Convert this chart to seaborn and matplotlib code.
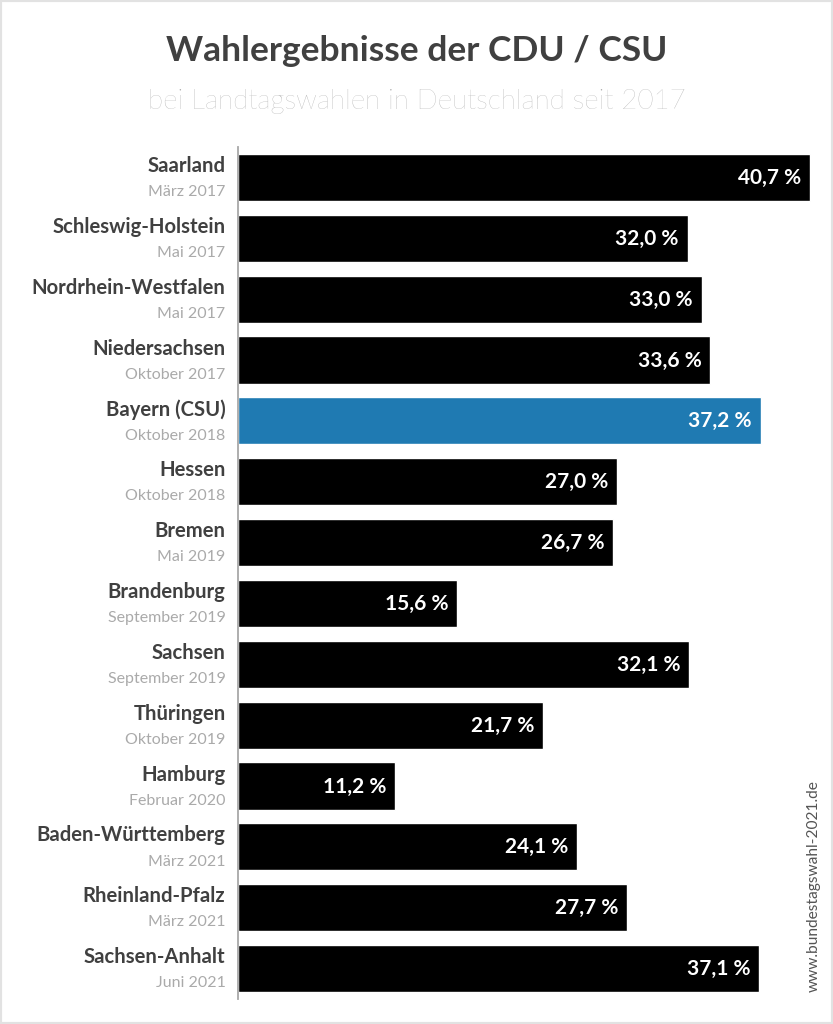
import pandas as pd
import matplotlib.pyplot as plt
import seaborn as sns
from matplotlib.patches import Rectangle

laender = ["Saarland", "Schleswig-Holstein", "Nordrhein-Westfalen", "Niedersachsen",
           "Bayern (CSU)", "Hessen", "Bremen", "Brandenburg", "Sachsen", "Thüringen",
           "Hamburg", "Baden-Württemberg", "Rheinland-Pfalz", "Sachsen-Anhalt"]
termine = ["März 2017", "Mai 2017", "Mai 2017", "Oktober 2017", "Oktober 2018", "Oktober 2018",
           "Mai 2019", "September 2019", "September 2019", "Oktober 2019", "Februar 2020",
           "März 2021", "März 2021", "Juni 2021"]
ergebnis = [40.7, 32.0, 33.0, 33.6, 37.2, 27.0, 26.7, 15.6, 32.1, 21.7, 11.2, 24.1, 27.7, 37.1]
partei = ["CDU", "CDU", "CDU", "CDU", "CSU", "CDU", "CDU", "CDU", "CDU", "CDU", "CDU", "CDU", "CDU", "CDU"]
farben = {"CDU": "#000000", "CSU": "#0780ca"}

df = pd.DataFrame({"land": laender, "wert": ergebnis, "partei": partei})

sns.set_theme(style="white")
plt.rcParams["font.family"] = ["Lato", "DejaVu Sans"]

W, H = 833, 1024
fig = plt.figure(figsize=(W / 100, H / 100), dpi=100)
ax = fig.add_axes([238 / W, 1 - 999 / H, (W - 238) / W, 852 / H])

sns.barplot(data=df, y="land", x="wert", hue="partei", palette=farben, dodge=False,
            width=0.775, legend=False, ax=ax)
ax.set_xlim(0, 595 / 14.05)
ax.set_ylim(13.5, -0.5)
ax.set_xlabel("")
ax.set_ylabel("")
ax.set_xticks([])
ax.set_yticks([])
sns.despine(ax=ax, left=False, top=True, right=True, bottom=True)
ax.spines["left"].set_color("#a8a8a8")
ax.spines["left"].set_linewidth(1.3)

for i, (land, termin, wert) in enumerate(zip(laender, termine, ergebnis)):
    ax.annotate(land, (0, i), xytext=(-12.5 * 0.72, 8.2), textcoords="offset points",
                ha="right", va="center", fontsize=14.6, fontweight="bold", color="#404040")
    ax.annotate(termin, (0, i), xytext=(-12.5 * 0.72, -10.6), textcoords="offset points",
                ha="right", va="center", fontsize=11.5, color="#aaaaaa")
    ax.annotate(f"{wert:.1f} %".replace(".", ","), (wert, i), xytext=(-6.3, -0.4),
                textcoords="offset points", ha="right", va="center",
                fontsize=15, fontweight="bold", color="white")

fig.text(416.5 / W, 1 - 51 / H, "Wahlergebnisse der CDU / CSU", ha="center", va="center",
         fontsize=25.5, fontweight="bold", color="#404040")
fig.text(416.5 / W, 1 - 101 / H, "bei Landtagswahlen in Deutschland seit 2017", ha="center",
         va="center", fontsize=20, fontweight="light", color="#a8a8a8")
t = fig.text(814 / W, 1 - 877 / H, "www.", rotation=90, ha="center", va="bottom", fontsize=10.5,
             color="#aaaaaa")
fig.text(814 / W, 1 - 773 / H, "www.bundestagswahl-2021.de", rotation=90, ha="center", va="top",
         fontsize=10.5, color="#555555").set_visible(False)
t.set_visible(False)
fig.text(814 / W, 1 - 992 / H, "www.bundestagswahl-2021.de", rotation=90, ha="center", va="bottom",
         fontsize=11.2, color="#555555")

# Rahmen ums Bild
fig.add_artist(Rectangle((0, 0), 1, 1, transform=fig.transFigure, fill=False,
                         edgecolor="#e2e2e2", linewidth=3))

fig.savefig("out.png", dpi=100)
